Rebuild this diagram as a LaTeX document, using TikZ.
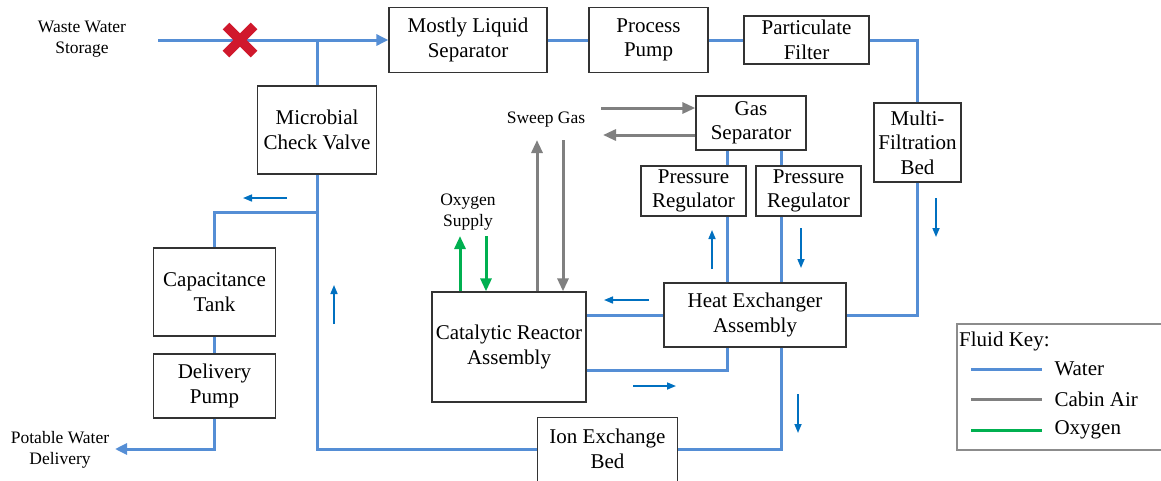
\documentclass[tikz,border=0pt]{standalone}
\usepackage{fontspec}
\setmainfont{Liberation Serif}
\usetikzlibrary{arrows.meta}
\definecolor{waterblue}{RGB}{85,142,213}
\definecolor{flowblue}{RGB}{0,112,192}
\definecolor{airgray}{RGB}{128,128,128}
\definecolor{oxygreen}{RGB}{0,176,80}
\definecolor{valvered}{RGB}{208,24,44}
\tikzset{
  box/.style={draw=black!80,line width=1.3pt,align=center,inner sep=0pt,font=\fontsize{21}{24.5}\selectfont},
  lbl/.style={align=center,inner sep=0pt,font=\fontsize{17.5}{21}\selectfont},
  keytext/.style={anchor=west,inner sep=0pt,font=\fontsize{21}{24}\selectfont},
  water/.style={draw=waterblue,line width=3pt},
  waterarrow/.style={water,-{Triangle[length=12pt,width=11pt]}},
  air/.style={draw=airgray,line width=3pt},
  airarrow/.style={air,-{Triangle[length=13pt,width=11pt]}},
  oxy/.style={draw=oxygreen,line width=3pt},
  oxyarrow/.style={oxy,-{Triangle[length=13pt,width=11pt]}},
  flow/.style={draw=flowblue,line width=1.6pt,-{Triangle[length=9pt,width=7pt]}}
}
\begin{document}
\begin{tikzpicture}[x=1pt,y=-1pt]
          \useasboundingbox (0,0) rectangle (1161,480);
          \clip (0,0) rectangle (1161,480);

          % components
          \node[box,minimum width=158,minimum height=65] (mls) at (468,40) {Mostly Liquid\\Separator};
          \node[box,minimum width=119,minimum height=65] (pump) at (648.5,40) {Process\\Pump};
          \node[box,minimum width=125,minimum height=48] (filter) at (806.5,40) {Particulate\\Filter};
          \node[box,minimum width=87,minimum height=79] (mfb) at (917.5,142.5) {Multi-\\Filtration\\Bed};
          \node[box,minimum width=119,minimum height=88] (mcv) at (317,130) {Microbial\\Check Valve};
          \node[box,minimum width=122,minimum height=88] (cap) at (214.5,292) {Capacitance\\Tank};
          \node[box,minimum width=122,minimum height=64] (dpump) at (214.5,386) {Delivery\\Pump};
          \node[box,minimum width=110,minimum height=54] (gs) at (751,123) {Gas\\Separator};
          \node[box,minimum width=105,minimum height=50] (pr1) at (693.5,191) {Pressure\\Regulator};
          \node[box,minimum width=105,minimum height=50] (pr2) at (808.5,191) {Pressure\\Regulator};
          \node[box,minimum width=182,minimum height=64] (hea) at (755,315) {Heat Exchanger\\Assembly};
          \node[box,minimum width=154,minimum height=110] (cra) at (509,347) {Catalytic Reactor\\Assembly};
          \node[box,draw=none,minimum width=139,minimum height=62] (ieb) at (607.5,449) {Ion Exchange\\Bed};
          \draw[black!80,line width=1.3pt] (ieb.north west) rectangle ([yshift=-30pt]ieb.south east);

          % labels
          \node[lbl] (wws) at (82,39) {Waste Water\\Storage};
          \node[lbl] (pwd) at (60,450) {Potable Water\\Delivery};
          \node[lbl] (sweep) at (546,120) {Sweep Gas};
          \node[lbl] (o2) at (468,212) {Oxygen\\Supply};

          % junctions
          \coordinate (in) at (158,40);
          \coordinate (out) at (115,449);
          \coordinate (j1) at (317,40);
          \coordinate (j2) at (317,212);
          \coordinate (a1) at (727,0);
          \coordinate (a2) at (781,0);
          \coordinate (b1) at (0,370);

          % water
          \draw[waterarrow] (in) -- (mls.west);
          \draw[water] (j1) -- (mcv.north);
          \draw[water] (mls.east) -- (pump.west);
          \draw[water] (pump.east) -- (filter.west);
          \draw[water] (filter.east) -| (mfb.north);
          \draw[water] (mfb.south) |- (hea.east);
          \draw[water] (hea.west) -- (hea.west -| cra.east);
          \draw[water] (cra.east |- b1) -| (a1 |- hea.south);
          \draw[water] (a1 |- hea.north) -- (a1 |- pr1.south);
          \draw[water] (a1 |- pr1.north) -- (a1 |- gs.south);
          \draw[water] (a2 |- gs.south) -- (a2 |- pr2.north);
          \draw[water] (a2 |- pr2.south) -- (a2 |- hea.north);
          \draw[water] (a2 |- hea.south) |- (ieb.east);
          \draw[water] (ieb.west) -| (mcv.south);
          \draw[water] (j2) -| (cap.north);
          \draw[water] (cap.south) -- (dpump.north);
          \draw[waterarrow] (dpump.south) |- (out);

          % blocked inlet
          \draw[valvered,line width=9.5pt] (226,26) -- (254,54) (226,54) -- (254,26);

          % cabin air
          \coordinate (s1) at (601,108);
          \coordinate (s2) at (603,135);
          \coordinate (g1) at (537,140);
          \coordinate (g2) at (563,140);
          \draw[airarrow] (s1) -- (s1 -| gs.west);
          \draw[airarrow] (s2 -| gs.west) -- (s2);
          \draw[airarrow] (g1 |- cra.north) -- (g1);
          \draw[airarrow] (g2) -- (g2 |- cra.north);

          % oxygen
          \coordinate (o1) at (460,236);
          \coordinate (o2) at (486,236);
          \draw[oxyarrow] (o1 |- cra.north) -- (o1);
          \draw[oxyarrow] (o2) -- (o2 |- cra.north);

          % flow direction
          \draw[flow] (287,198) -- (243,198);
          \draw[flow] (334,324) -- (334,285);
          \draw[flow] (649,300) -- (604,300);
          \draw[flow] (633,386) -- (676,386);
          \draw[flow] (712,269) -- (712,230);
          \draw[flow] (801,228) -- (801,268);
          \draw[flow] (798,394) -- (798,433);
          \draw[flow] (936,198) -- (936,237);

          % key
          \draw[black!45,line width=1.3pt] (957,324) rectangle (1170,450);
          \node[keytext] (keyhead) at (959,341) {Fluid Key:};
          \coordinate (k1) at (971,369);
          \coordinate (k2) at (971,399);
          \coordinate (k3) at (971,430);
          \draw[water] (k1) -- ++(71,0) node[keytext,xshift=11pt] (kwater) {Water};
          \draw[air] (k2) -- ++(71,0) node[keytext,xshift=11pt] (kair) {Cabin Air};
          \draw[oxy] (k3) -- ++(71,0) node[keytext,xshift=11pt] (koxy) {Oxygen};
        \end{tikzpicture}
\end{document}
